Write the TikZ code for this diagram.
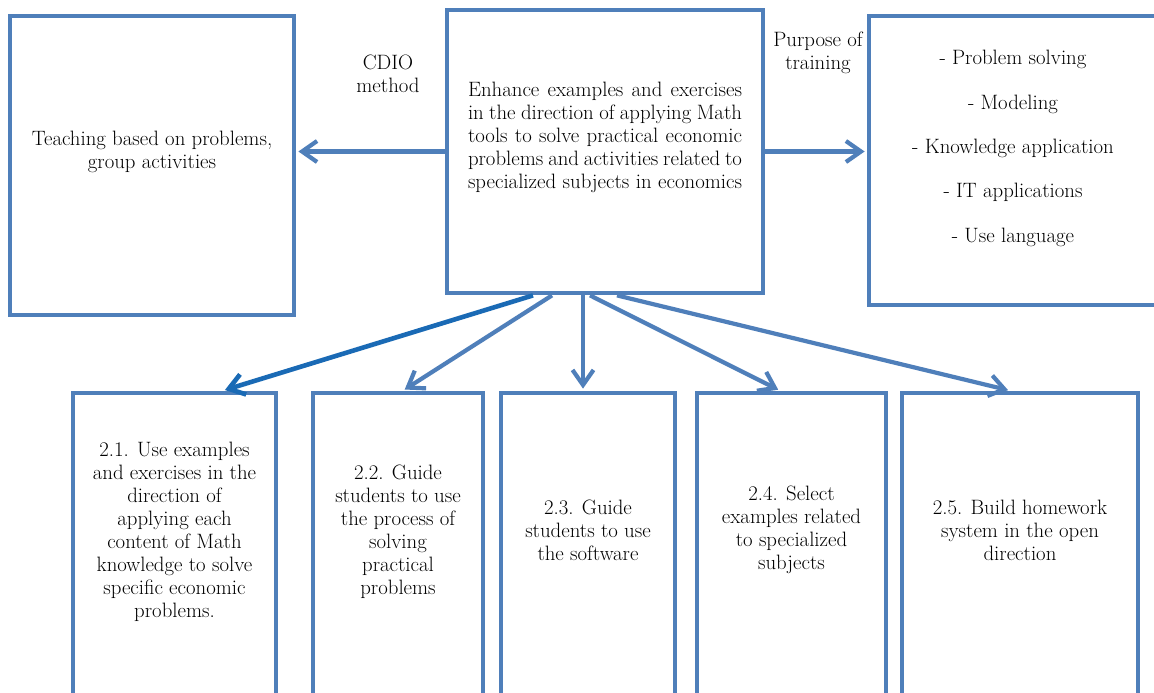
\documentclass[tikz,border=0pt]{standalone}
\usetikzlibrary{arrows.meta}
\definecolor{boxblue}{HTML}{4F7FBA}
\definecolor{darkblue}{HTML}{1A6AB5}
\definecolor{txt}{HTML}{000000}
\begin{document}
\begin{tikzpicture}[x=1pt,y=-1pt,
  frame/.style={draw=boxblue, line width=4.8pt, inner sep=0pt},
  conn/.style={draw=boxblue, line width=4.2pt, shorten >=2pt,
    -{Straight Barb[length=15pt,width=21pt]}},
  lbl/.style={font=\fontsize{20.8}{23}\selectfont, text=txt, align=center, inner sep=0pt},
  listlbl/.style={font=\fontsize{20.8}{44.3}\selectfont, text=txt, align=center, inner sep=0pt},
]
\useasboundingbox (0,0) rectangle (1154,693);
\clip (0,0) rectangle (1154,693);
\fill[white] (0,0) rectangle (1154,693);

% boxes
\node[frame, minimum width=284pt, minimum height=299pt] (tl) at (152,165.5) {};
\node[frame, minimum width=316pt, minimum height=283pt] (c) at (605,151.5) {};
\node[frame, minimum width=301pt, minimum height=289pt] (r) at (1019.5,160.5) {};
\node[frame, minimum width=203pt, minimum height=327pt] (b1) at (174.5,556.5) {};
\node[frame, minimum width=170pt, minimum height=327pt] (b2) at (398,556.5) {};
\node[frame, minimum width=174pt, minimum height=327pt] (b3) at (588,556.5) {};
\node[frame, minimum width=189pt, minimum height=327pt] (b4) at (791.5,556.5) {};
\node[frame, minimum width=236pt, minimum height=327pt] (b5) at (1020,556.5) {};

% texts
\node[lbl] (tltext) at (152,152) {Teaching based on problems,\\ group activities};
\node[lbl] (cdio) at (388,74) {CDIO\\method};
\node[lbl] (purpose) at (818,52.5) {Purpose of\\training};
\node[lbl, align=left] (ctext) at (605,137) {%
\makebox[274pt][s]{Enhance examples and exercises}\\
\makebox[274pt][s]{in the direction of applying Math}\\
\makebox[274pt][s]{tools to solve practical economic}\\
\makebox[274pt][s]{problems and activities related to}\\
\makebox[274pt][s]{specialized subjects in economics}};
\node[listlbl] (rtext) at (1013,148.5) {- Problem solving\\- Modeling\\- Knowledge application\\- IT applications\\- Use language};
\node[lbl] (t1) at (174.5,532) {2.1. Use examples\\and exercises in the\\direction of\\applying each\\content of Math\\knowledge to solve\\specific economic\\problems.};
\node[lbl] (t2) at (398,532) {2.2. Guide\\students to use\\the process of\\solving\\practical\\problems};
\node[lbl] (t3) at (588,530) {2.3. Guide\\students to use\\the software};
\node[lbl] (t4) at (791.5,530) {2.4. Select\\examples related\\to specialized\\subjects};
\node[lbl] (t5) at (1020,530) {2.5. Build homework\\system in the open\\direction};

% connectors
\draw[conn] (c.west) -- (c.west -| tl.east);
\draw[conn] (c.east) -- (c.east -| r.west);
\draw[conn, draw=darkblue, line width=4.6pt] ([xshift=-72pt]c.south) -- ([xshift=48.5pt]b1.north);
\draw[conn] ([xshift=-53pt]c.south) -- ([xshift=5pt]b2.north);
\draw[conn] ([xshift=-22pt]c.south) -- ([xshift=-5pt]b3.north);
\draw[conn] ([xshift=-15pt]c.south) -- ([xshift=-11.5pt]b4.north);
\draw[conn] ([xshift=12pt]c.south) -- ([xshift=-10pt]b5.north);
\end{tikzpicture}
\end{document}
